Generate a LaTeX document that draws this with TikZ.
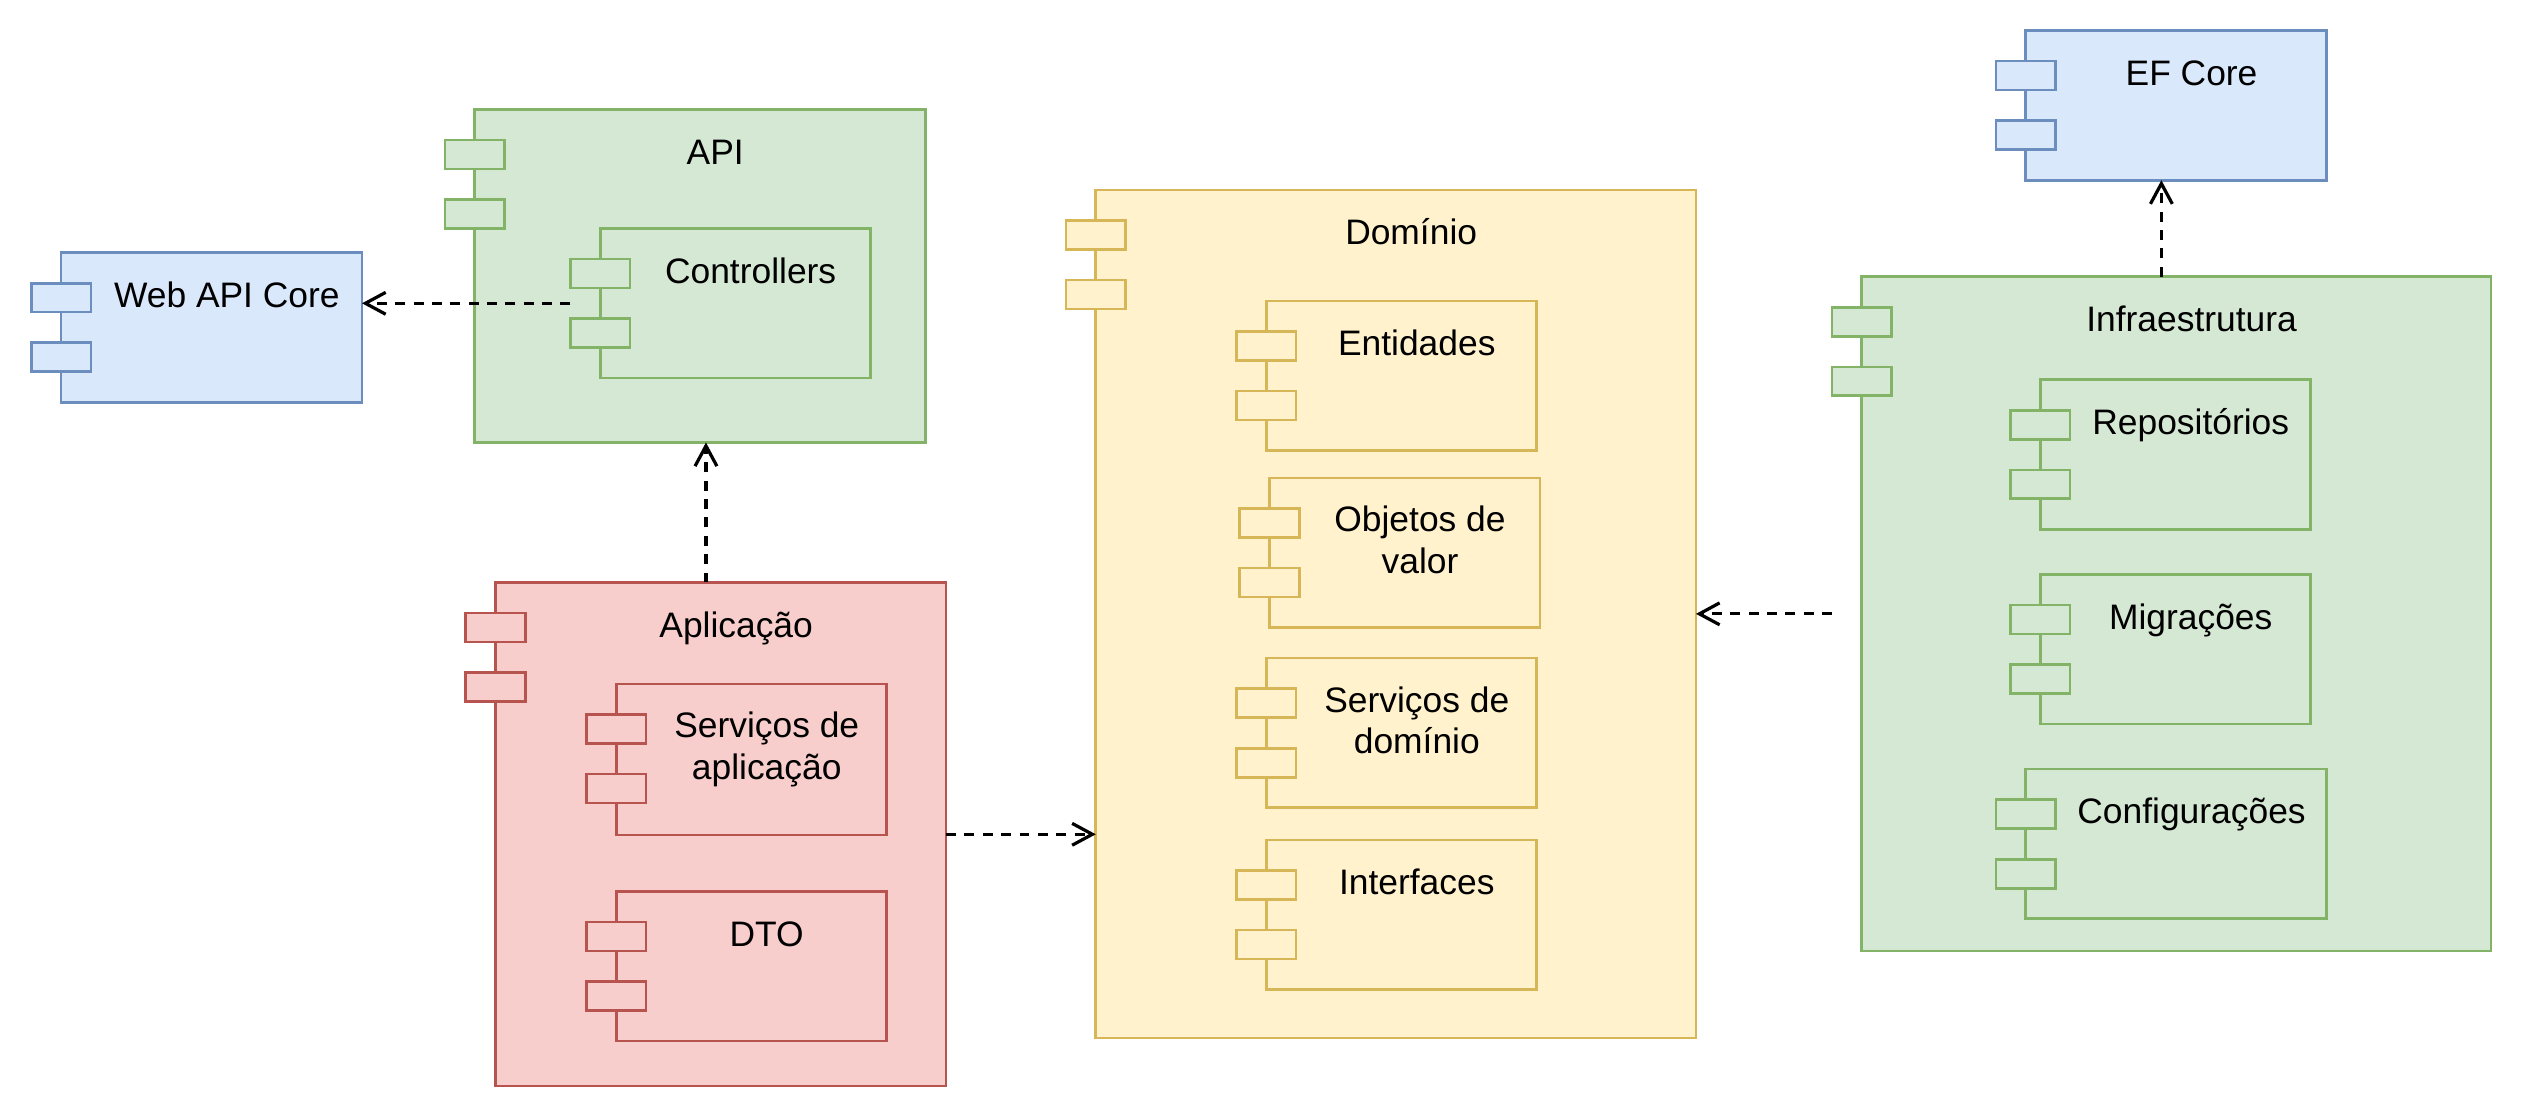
\documentclass[tikz,border=0pt]{standalone}
\usepackage{fontspec}
\setmainfont{Liberation Sans}
\usetikzlibrary{arrows.meta,calc}
\definecolor{blueF}{HTML}{DAE8FC}\definecolor{blueD}{HTML}{6C8EBF}
\definecolor{greenF}{HTML}{D5E8D4}\definecolor{greenD}{HTML}{82B366}
\definecolor{redF}{HTML}{F8CECC}\definecolor{redD}{HTML}{B85450}
\definecolor{yellowF}{HTML}{FFF2CC}\definecolor{yellowD}{HTML}{D6B656}
\tikzset{
  compbox/.style={draw=#1D, fill=#1F, line width=0.83pt, inner sep=0pt, outer sep=0pt, rectangle},
  compport/.style={draw=#1D, fill=#1F, line width=0.83pt, inner sep=0pt, outer sep=0pt, rectangle,
    minimum width=18.5pt, minimum height=9pt},
  lbl/.style={anchor=base, inner sep=0pt, font=\fontsize{11}{13}\selectfont},
  dep/.style={draw=black, line width=1pt, dash pattern=on 3.1pt off 2.6pt,
    -{Straight Barb[length=6.3pt,width=6.8pt]}}
}
% name, colour, x1, y1, x2, y2
\newcommand\umlcomp[6]{%
  \node[compbox=#2, minimum width={(#5-#3)*0.5pt}, minimum height={(#6-#4)*0.5pt}] (#1) at ({(#3+#5)/2},{(#4+#6)/2}) {};
  \node[compport=#2] (#1p1) at (#3,{#4+28}) {};
  \node[compport=#2] (#1p2) at (#3,{#4+65}) {};
}
\newcommand\umltext[4]{\node[lbl] (#1) at (#2,#3) {#4};}
\begin{document}
\begin{tikzpicture}[x=0.5pt,y=-0.5pt]
\useasboundingbox (0,0) rectangle (1568,695);
% Web API Core
\umlcomp{web}{blue}{38}{157}{225}{250}
\umltext{tweb}{141}{191}{Web API Core}
% API
\umlcomp{api}{green}{295}{68}{575}{275}
\umltext{tapi}{444.5}{102}{API}
\umlcomp{ctrl}{green}{373}{142}{541}{235}
\umltext{tctrl}{466.5}{176}{Controllers}
% Aplicacao
\umlcomp{app}{red}{308}{362}{588}{675}
\umltext{tapp}{457.5}{396}{Aplicação}
\umlcomp{svcapp}{red}{383}{425}{551}{519}
\umltext{tsvcappa}{476.5}{458.5}{Serviços de}
\umltext{tsvcappb}{476.5}{484.5}{aplicação}
\umlcomp{dto}{red}{383}{554}{551}{647}
\umltext{tdto}{476.5}{588}{DTO}
% Dominio
\umlcomp{dom}{yellow}{681}{118}{1054}{645}
\umltext{tdom}{877}{152}{Domínio}
\umlcomp{ent}{yellow}{787}{187}{955}{280}
\umltext{tent}{880.5}{221}{Entidades}
\umlcomp{obj}{yellow}{789}{297}{957}{390}
\umltext{tobja}{882.5}{330.5}{Objetos de}
\umltext{tobjb}{882.5}{356.5}{valor}
\umlcomp{svcdom}{yellow}{787}{409}{955}{502}
\umltext{tsvcdoma}{880.5}{442.5}{Serviços de}
\umltext{tsvcdomb}{880.5}{468.5}{domínio}
\umlcomp{intf}{yellow}{787}{522}{955}{615}
\umltext{tintf}{880.5}{556}{Interfaces}
% Infraestrutura
\umlcomp{infra}{green}{1157}{172}{1548}{591}
\umltext{tinfra}{1362}{206}{Infraestrutura}
\umlcomp{repo}{green}{1268}{236}{1436}{329}
\umltext{trepo}{1361.5}{270}{Repositórios}
\umlcomp{mig}{green}{1268}{357}{1436}{450}
\umltext{tmig}{1361.5}{391}{Migrações}
\umlcomp{conf}{green}{1259}{478}{1446}{571}
\umltext{tconf}{1362}{512}{Configurações}
% EF Core
\umlcomp{ef}{blue}{1259}{19}{1446}{112}
\umltext{tef}{1362}{53}{EF Core}
% connectors
\coordinate (appTop) at ($(app.north)+(-9.25,0)$);
\coordinate (infTop) at ($(infra.north)+(-9.25,0)$);
\draw[dep] (ctrlp1.west |- ctrl.center) -- (web.east |- ctrl.center);
\draw[dep] (appTop) -- (appTop |- api.south);
\draw[dep] (app.east) -- (dom.west |- app.east);
\draw[dep] (infrap1.west |- infra.center) -- (dom.east |- infra.center);
\draw[dep] (infTop) -- (infTop |- ef.south);
\end{tikzpicture}
\end{document}
